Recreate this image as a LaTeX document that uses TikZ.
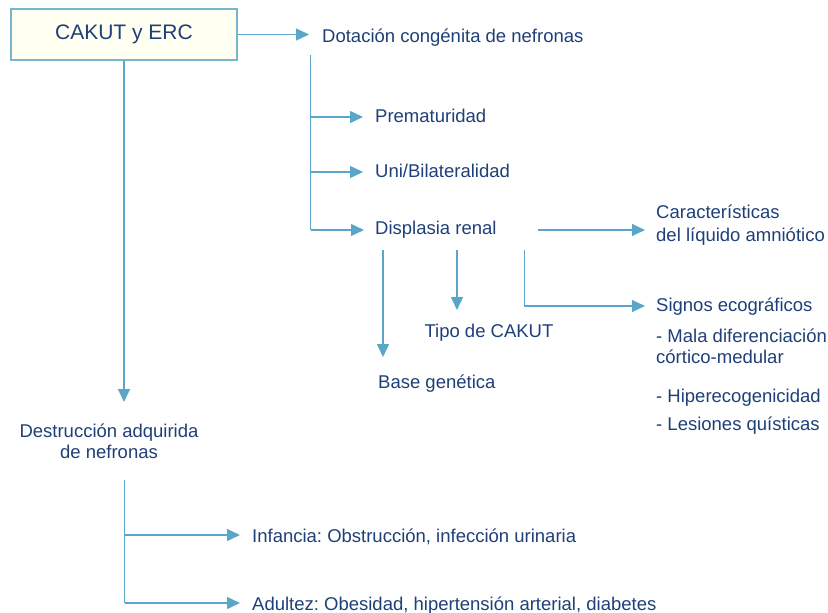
\documentclass[tikz,border=0pt]{standalone}
\usepackage{fontspec}
\setmainfont{Liberation Sans}
\usetikzlibrary{arrows.meta}
\definecolor{txtc}{HTML}{1E3F78}
\definecolor{linec}{HTML}{5AA6C8}
\definecolor{boxline}{HTML}{78B6D0}
\definecolor{boxfill}{HTML}{FFFFF2}
\frenchspacing
\begin{document}
\begin{tikzpicture}[x=1pt,y=-1pt,
  txt/.style={font=\fontsize{18.5}{22}\selectfont, text=txtc, inner sep=0pt, align=left},
  conn/.style={draw=linec, line width=1.3pt},
  arr/.style={conn, -{Triangle[length=13pt,width=12pt]}},
  mainbox/.style={draw=boxline, fill=boxfill, line width=1.3pt, minimum width=226pt,
    minimum height=51pt, inner sep=0pt, font=\fontsize{21}{25}\selectfont, text=txtc}]
\useasboundingbox (0,0) rectangle (828,613);

% main box
\node[mainbox] (cakut) at (124,34.5) {CAKUT y ERC};

% texts
\node[txt, anchor=base west] (dot) at (322,42) {Dotación congénita de nefronas};
\node[txt, anchor=base west] (prem) at (375,122) {Prematuridad};
\node[txt, anchor=base west] (uni) at (375,177) {Uni/Bilateralidad};
\node[txt, anchor=base west] (disp) at (375,234.5) {Displasia renal};
\node[txt, anchor=north west, font=\fontsize{18.5}{23.5}\selectfont] (carac) at (656,204.5) {Características\\del líquido amniótico};
\node[txt, anchor=base west] (signos) at (656,311) {Signos ecográficos};
\node[txt, anchor=north west, font=\fontsize{18.5}{21.5}\selectfont] (mala) at (656,328.5) {- Mala diferenciación\\córtico-medular};
\node[txt, anchor=base west] (hiper) at (656,402) {- Hiperecogenicidad};
\node[txt, anchor=base west] (lesion) at (656,430) {- Lesiones quísticas};
\node[txt, anchor=base] (tipo) at (489,337) {Tipo de CAKUT};
\node[txt, anchor=base west] (basegen) at (378,388) {Base genética};
\node[txt, anchor=north, align=center, font=\fontsize{18.5}{21}\selectfont] (destr) at (109,423.5) {Destrucción adquirida\\de nefronas};
\node[txt, anchor=base west] (infan) at (252,542) {Infancia: Obstrucción, infección urinaria};
\node[txt, anchor=base west] (adult) at (252,610) {Adultez: Obesidad, hipertensión arterial, diabetes};

% connector coordinates
\coordinate (tdot) at (309,34.5);
\coordinate (dtop) at (310.5,55);
\coordinate (dbot) at (310.5,230);
\coordinate (tprem) at (363,117);
\coordinate (tuni) at (363,172);
\coordinate (tdisp) at (364,230);
\coordinate (cstart) at (538,230);
\coordinate (tcarac) at (645,230);
\coordinate (b1) at (383,250);
\coordinate (tbase) at (383,357);
\coordinate (b2) at (457,250);
\coordinate (ttipo) at (457,310);
\coordinate (b3) at (524.5,250);
\coordinate (tsig) at (645,306);
\coordinate (tdestr) at (124,402);
\coordinate (ltop) at (124.5,480);
\coordinate (tinf) at (240,535);
\coordinate (tadu) at (240,603);

% connectors
\draw[arr] (cakut.east) -- (tdot);
\draw[conn] (dtop) -- (dbot);
\draw[arr] (dtop |- tprem) -- (tprem);
\draw[arr] (dtop |- tuni) -- (tuni);
\draw[arr] (dbot) -- (tdisp);
\draw[arr] (cstart) -- (tcarac);
\draw[arr] (b1) -- (tbase);
\draw[arr] (b2) -- (ttipo);
\draw[arr] (b3) |- (tsig);
\draw[arr] (cakut.south) -- (tdestr);
\draw[conn] (ltop) -- (ltop |- tadu);
\draw[arr] (ltop |- tinf) -- (tinf);
\draw[arr] (ltop |- tadu) -- (tadu);
\end{tikzpicture}
\end{document}
